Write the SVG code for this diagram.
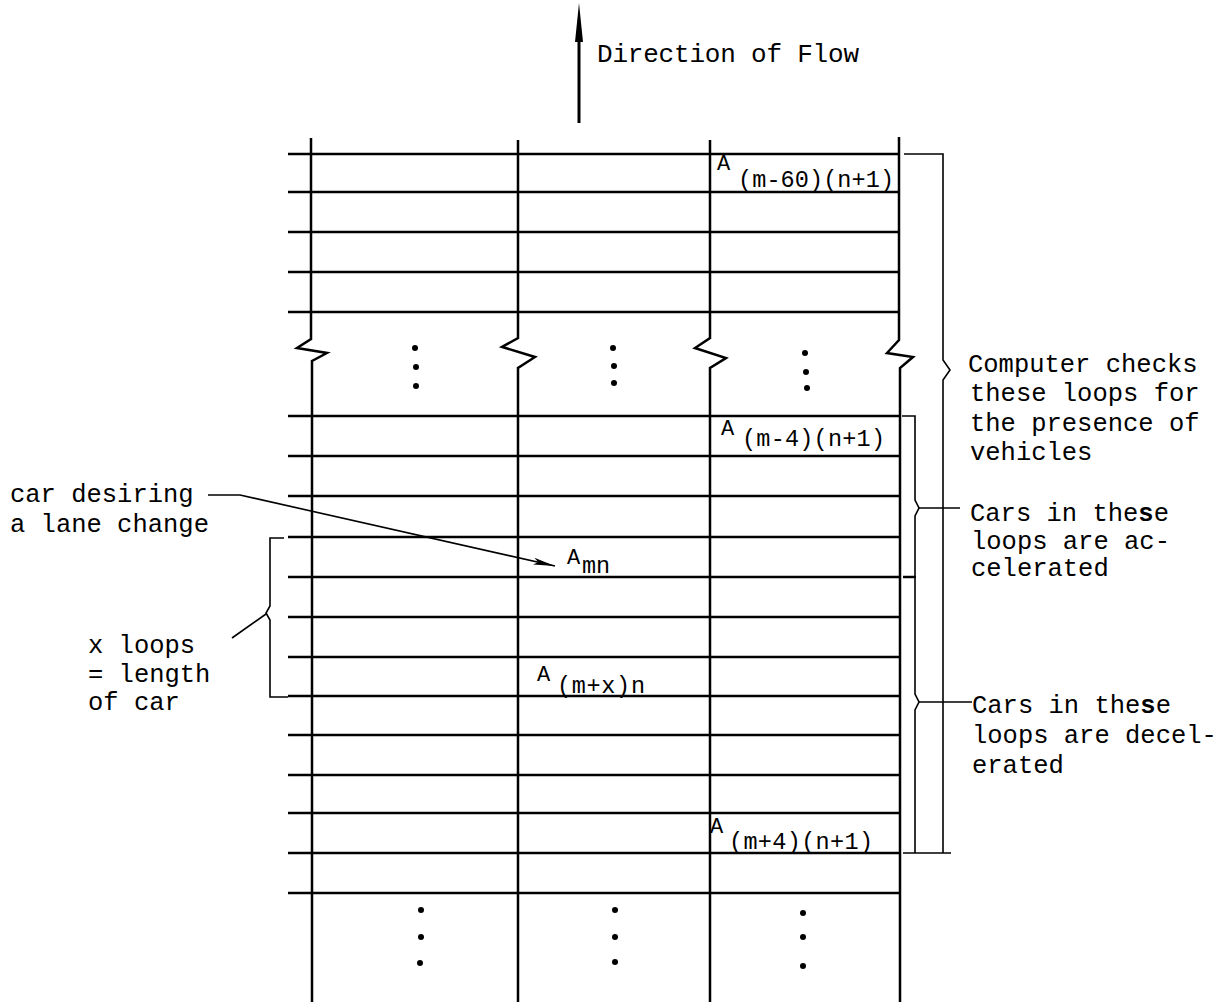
<svg xmlns="http://www.w3.org/2000/svg" width="1224" height="1007" viewBox="0 0 1224 1007">
<style>
  .t { font-family: "Liberation Mono", "DejaVu Sans Mono", monospace; font-size: 25.5px; fill: #000; }
  .sub { font-family: "Liberation Mono", "DejaVu Sans Mono", monospace; font-size: 23.5px; fill: #000; }
  .sup { font-family: "Liberation Mono", "DejaVu Sans Mono", monospace; font-size: 22px; fill: #000; }
  .grid { fill: none; stroke: #000; stroke-width: 2.5; stroke-linejoin: miter; }
  .br { fill: none; stroke: #000; stroke-width: 1.6; }
  .dot { fill: #000; }
</style>
<defs>
  <marker id="ah" markerUnits="userSpaceOnUse" markerWidth="24" markerHeight="10" refX="22" refY="5" orient="auto">
    <path d="M0,1.5 L22,5 L0,8.5 L5,5 z" fill="#000"/>
  </marker>
</defs>
<rect width="1224" height="1007" fill="#fff"/>

<g id="flow-direction">
  <path d="M579 123 V 36" stroke="#000" stroke-width="3" fill="none"/>
  <polygon points="579,3 575,42 583,42" fill="#000"/>
  <text class="t" x="597" y="62" style="font-size:26px" textLength="262" lengthAdjust="spacing">Direction of Flow</text>
</g>

<g id="loop-grid">
  <path class="grid" d="M288 154 H899 M288 192 H899 M288 232 H899 M288 272 H899 M288 312 H899
    M288 416 H899 M288 456 H899 M288 496 H899 M288 537 H899 M288 577 H899 M288 617 H899 M288 657 H899
    M288 696 H899 M288 735 H899 M288 775 H899 M288 813 H899 M288 853 H899 M288 893 H899"/>
  <path class="grid" d="M311 138 V339 L297 348 L327 353 L312 361 V1002"/>
  <path class="grid" d="M518 140 V338 L502 347 L535 357 L518 368 V1002"/>
  <path class="grid" d="M710 140 V338 L695 348 L726 358 L710 368 V1002"/>
  <path class="grid" d="M899 137 V340 L887 353 L913 357 L900 368 V1002"/>
  <g id="gap-dots">
    <circle class="dot" cx="415" cy="348" r="3"/>
    <circle class="dot" cx="416" cy="367" r="3"/>
    <circle class="dot" cx="416" cy="386" r="3"/>
    <circle class="dot" cx="613" cy="348" r="3"/>
    <circle class="dot" cx="614" cy="366" r="3"/>
    <circle class="dot" cx="614" cy="383" r="3"/>
    <circle class="dot" cx="805" cy="353" r="3"/>
    <circle class="dot" cx="806" cy="372" r="3"/>
    <circle class="dot" cx="807" cy="388" r="3"/>
  </g>
  <g id="bottom-dots">
    <circle class="dot" cx="421" cy="910" r="3"/>
    <circle class="dot" cx="421" cy="937" r="3"/>
    <circle class="dot" cx="420" cy="963" r="3"/>
    <circle class="dot" cx="615" cy="910" r="3"/>
    <circle class="dot" cx="615" cy="937" r="3"/>
    <circle class="dot" cx="615" cy="962" r="3"/>
    <circle class="dot" cx="803" cy="913" r="3"/>
    <circle class="dot" cx="803" cy="937" r="3"/>
    <circle class="dot" cx="803" cy="966" r="3"/>
  </g>
</g>

<g id="loop-a-m60">
  <text class="sup" x="717" y="170">A</text>
  <text class="sub" x="738" y="187" textLength="156" lengthAdjust="spacing">(m-60)(n+1)</text>
</g>
<g id="loop-a-m4">
  <text class="sup" x="721" y="435">A</text>
  <text class="sub" x="742" y="446" textLength="143" lengthAdjust="spacing">(m-4)(n+1)</text>
</g>
<g id="loop-a-mn">
  <text class="sup" x="567" y="564">A</text>
  <text class="sub" x="582" y="573">mn</text>
</g>
<g id="loop-a-mx">
  <text class="sup" x="537" y="681">A</text>
  <text class="sub" x="557" y="693" textLength="88" lengthAdjust="spacing">(m+x)n</text>
</g>
<g id="loop-a-m4p">
  <text class="sup" x="710" y="833">A</text>
  <text class="sub" x="729" y="849" textLength="144" lengthAdjust="spacing">(m+4)(n+1)</text>
</g>

<g id="label-car">
  <text class="t" x="10" y="502">car desiring</text>
  <text class="t" x="10" y="532">a lane change</text>
</g>
<g id="label-xloops">
  <text class="t" x="88" y="653">x loops</text>
  <text class="t" x="88" y="682">= length</text>
  <text class="t" x="88" y="710">of car</text>
</g>
<g id="label-computer">
  <text class="t" x="968" y="372">Computer checks</text>
  <text class="t" x="970" y="401">these loops for</text>
  <text class="t" x="970" y="431">the presence of</text>
  <text class="t" x="970" y="460">vehicles</text>
</g>
<g id="label-accel">
  <text class="t" x="970" y="521">Cars in the<tspan font-weight="bold">s</tspan>e</text>
  <text class="t" x="971" y="549">loops are ac-</text>
  <text class="t" x="971" y="576">celerated</text>
</g>
<g id="label-decel">
  <text class="t" x="972" y="713">Cars in the<tspan font-weight="bold">s</tspan>e</text>
  <text class="t" x="972" y="743">loops are decel-</text>
  <text class="t" x="972" y="773">erated</text>
</g>

<g id="connectors">
  <path class="br" d="M208 495 H240 L555 566" marker-end="url(#ah)"/>
  <path class="br" d="M284 538 H270 V606 L266 613 L270 620 V697 H288"/>
  <path class="br" d="M266 614 L232 638"/>
  <path class="br" d="M904 154 H943 V360 L950 370 L943 380 V853 M903 853 H951"/>
  <path class="br" d="M902 416 H915 V500 L919 508 L915 516 V577"/>
  <path d="M903 577 H916" stroke="#000" stroke-width="2.5"/>
  <path class="br" d="M919 508 H960"/>
  <path class="br" d="M915 577 V694 L919 702 L915 710 V853"/>
  <path class="br" d="M919 702 H972"/>
</g>
</svg>
